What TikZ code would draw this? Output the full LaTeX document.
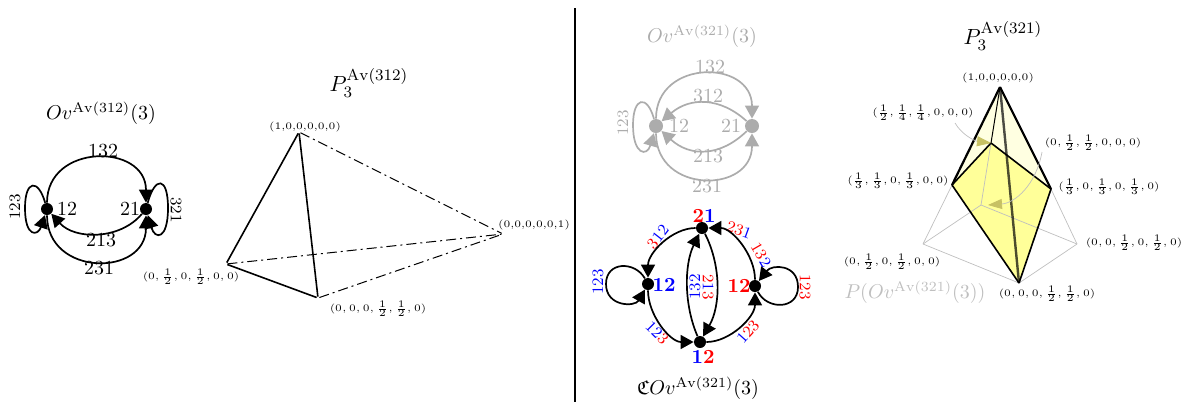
\documentclass[tikz,border=0pt]{standalone}
\usepackage{amsfonts}
\usetikzlibrary{arrows.meta}
\definecolor{softyellow}{RGB}{255,255,153}
\definecolor{paleyellow}{RGB}{255,255,225}
\begin{document}
\begin{tikzpicture}[x=0.5pt,y=-0.5pt,
  vertexdot/.style={circle,fill,inner sep=0pt,minimum size=6pt},
  edgeline/.style={line width=0.85pt,-{Triangle[length=6.5pt,width=7pt]}},
  plainline/.style={line width=0.8pt},
  dashline/.style={line width=0.5pt,dash pattern=on 5pt off 2pt on 1pt off 2pt},
  ghost/.style={gray!65},
  ghostline/.style={gray!50,line width=0.35pt},
  calloutline/.style={gray!50,line width=0.35pt,-{Triangle[length=7pt,width=5pt,color=olive!50]}},
  bigtitle/.style={font=\fontsize{11}{13}\selectfont},
  thinlabel/.style={font=\tiny,inner sep=0pt},
  edgelabel/.style={inner sep=0pt},
  looplabel/.style={font=\footnotesize,inner sep=0pt},
  colorlabel/.style={font=\footnotesize,inner sep=0pt},
  vertexlabel/.style={font=\bfseries,inner sep=0pt}]
\useasboundingbox (0,0) rectangle (1192,403);

\node (avoidtitle) at (101,113) {$Ov^{\mathrm{Av}(312)}(3)$};
\node (left12) [vertexdot] at (47,209) {};
\node (left21) [vertexdot] at (146,209) {};
\node (lab12) [edgelabel] at (67,209) {12};
\node (lab21) [edgelabel] at (130,209) {21};
\node (lab132) [edgelabel] at (103,151) {132};
\node (lab213) [edgelabel] at (101,240) {213};
\node (lab231) [edgelabel] at (99,268) {231};
\node (lab123) [looplabel,rotate=90] at (15,207) {123};
\node (lab321) [looplabel,rotate=-90] at (176,210) {321};

\draw[edgeline] (left12) .. controls (47,143) and (146,143) .. (left21);
\draw[edgeline] (left12) .. controls (47,277) and (146,277) .. (left21);
\draw[edgeline] (left21) .. controls (120,240) and (75,240) .. (left12);
\draw[edgeline] (left12) .. controls (38,178) and (25,180) .. (25,208) .. controls (25,238) and (38,236) .. (left12);
\draw[edgeline] (left21) .. controls (155,176) and (168,176) .. (168,208) .. controls (168,240) and (155,240) .. (left21);

\node (tetratitle) [bigtitle] at (369,83) {$P_3^{\mathrm{Av}(312)}$};
\node (tetratop) [inner sep=0pt] at (299,132) {};
\node (tetraleft) [inner sep=0pt] at (226,264) {};
\node (tetrafront) [inner sep=0pt] at (318,298) {};
\node (tetraright) [inner sep=0pt] at (503,234) {};
\node (tetratoplab) [thinlabel] at (305,127) {(1,0,0,0,0,0)};
\node (tetraleftlab) [thinlabel] at (191,277) {$(0,\frac{1}{2},0,\frac{1}{2},0,0)$};
\node (tetrafrontlab) [thinlabel] at (378,309) {$(0,0,0,\frac{1}{2},\frac{1}{2},0)$};
\node (tetrarightlab) [thinlabel] at (534,225) {(0,0,0,0,0,1)};

\draw[plainline] (tetratop) -- (tetraleft);
\draw[plainline] (tetratop) -- (tetrafront);
\draw[plainline] (tetraleft) -- (tetrafront);
\draw[dashline] (tetratop) -- (tetraright);
\draw[dashline] (tetraleft) -- (tetraright);
\draw[dashline] (tetrafront) -- (tetraright);

\coordinate (dividertop) at (575,8);
\coordinate (dividerbottom) at (575,402);
\draw[plainline] (dividertop) -- (dividerbottom);

\node (ghosttitle) [ghost] at (702,36) {$Ov^{\mathrm{Av}(321)}(3)$};
\node (ghost12) [vertexdot,ghost,minimum size=7pt] at (656,126) {};
\node (ghost21) [vertexdot,ghost,minimum size=7pt] at (752,126) {};
\node (ghostlab12) [edgelabel,ghost] at (679,126) {12};
\node (ghostlab21) [edgelabel,ghost] at (731,126) {21};
\node (ghostlab132) [edgelabel,ghost] at (710,67) {132};
\node (ghostlab312) [edgelabel,ghost] at (708,96) {312};
\node (ghostlab213) [edgelabel,ghost] at (708,156) {213};
\node (ghostlab231) [edgelabel,ghost] at (707,186) {231};
\node (ghostlab123) [looplabel,ghost,rotate=90] at (623,123) {123};

\draw[edgeline,ghost] (ghost12) .. controls (656,59) and (752,59) .. (ghost21);
\draw[edgeline,ghost] (ghost12) .. controls (656,194) and (752,194) .. (ghost21);
\draw[edgeline,ghost] (ghost21) .. controls (720,97) and (690,97) .. (ghost12);
\draw[edgeline,ghost] (ghost21) .. controls (720,157) and (690,157) .. (ghost12);
\draw[edgeline,ghost] (ghost12) .. controls (647,94) and (633,97) .. (633,125) .. controls (633,155) and (647,157) .. (ghost12);

\node (cubetop) [vertexdot] at (702,228) {};
\node (cubeleft) [vertexdot] at (648,284) {};
\node (cuberight) [vertexdot] at (755,286) {};
\node (cubebottom) [vertexdot] at (700,342) {};
\node (cubetoplab) [vertexlabel] at (704,216) {\textcolor{red}{2}\textcolor{blue}{1}};
\node (cubeleftlab) [vertexlabel,blue] at (664,285) {12};
\node (cuberightlab) [vertexlabel,red] at (739,286) {12};
\node (cubebottomlab) [vertexlabel] at (703,357) {\textcolor{blue}{1}\textcolor{red}{2}};
\node (clab312) [colorlabel,rotate=52] at (658,237) {\textcolor{red}{3}\textcolor{blue}{12}};
\node (clab231) [colorlabel,rotate=-20] at (739,230) {\textcolor{red}{23}\textcolor{blue}{1}};
\node (clab132) [colorlabel,rotate=-60] at (761,255) {\textcolor{red}{13}\textcolor{blue}{2}};
\node (clabloopl) [colorlabel,blue,rotate=90] at (598,282) {123};
\node (clabloopr) [colorlabel,red,rotate=-90] at (805,287) {123};
\node (clabinl) [colorlabel,blue,rotate=90] at (695,287) {132};
\node (clabinr) [colorlabel,rotate=-90] at (708,287) {\textcolor{red}{2}\textcolor{blue}{1}\textcolor{red}{3}};
\node (clabbl) [colorlabel,rotate=-45] at (657,333) {\textcolor{blue}{12}\textcolor{red}{3}};
\node (clabbr) [colorlabel,rotate=48] at (748,332) {\textcolor{blue}{1}\textcolor{red}{23}};
\node (cubetitle) at (698,388) {$\mathfrak{C}Ov^{\mathrm{Av}(321)}(3)$};

\draw[edgeline] (cubetop) .. controls (672,228) and (648,253) .. (cubeleft);
\draw[edgeline] (cuberight) .. controls (755,255) and (732,228) .. (cubetop);
\draw[edgeline] (cubeleft) .. controls (648,315) and (670,342) .. (cubebottom);
\draw[edgeline] (cubebottom) .. controls (730,342) and (755,317) .. (cuberight);
\draw[edgeline] (cubebottom) .. controls (684,305) and (684,265) .. (cubetop);
\draw[edgeline] (cubetop) .. controls (721,265) and (721,305) .. (cubebottom);
\draw[edgeline] (cubeleft) .. controls (635,261) and (606,261) .. (606,284) .. controls (606,307) and (635,307) .. (cubeleft);
\draw[edgeline] (cuberight) .. controls (767,310) and (798,310) .. (798,287) .. controls (798,264) and (772,264) .. (cuberight);

\node (polytitle) [bigtitle] at (1003,36) {$P_3^{\mathrm{Av}(321)}$};
\coordinate (polytop) at (1000,87);
\coordinate (polyleft) at (952,185);
\coordinate (polyright) at (1051,189);
\coordinate (polybottom) at (1019,283);
\coordinate (polyback) at (991,143);
\coordinate (polylow) at (981,205);
\coordinate (polyouterl) at (923,244);
\coordinate (polyouterr) at (1077,244);
\coordinate (backstart) at (955,123);
\coordinate (lowstart) at (1042,152);
\coordinate (lowend) at (988,205);

\fill[paleyellow] (polytop) -- (polyleft) -- (polyback) -- (polyright) -- cycle;
\fill[softyellow] (polyleft) -- (polyback) -- (polyright) -- (polybottom) -- cycle;
\draw[ghostline] (polyleft) -- (polyouterl);
\draw[ghostline] (polyouterl) -- (polybottom);
\draw[ghostline] (polybottom) -- (polyouterr);
\draw[ghostline] (polyouterr) -- (polyright);
\draw[ghostline] (polyouterl) -- (polylow);
\draw[ghostline] (polylow) -- (polyouterr);
\draw[ghostline] (polyback) -- (polylow);
\draw[line width=0.5pt] (polytop) -- (polyback);
\draw[plainline] (polyleft) -- (polyback);
\draw[plainline] (polyback) -- (polyright);
\draw[plainline] (polyright) -- (polybottom);
\draw[plainline] (polybottom) -- (polyleft);
\draw[line width=1.1pt] (polytop) -- (polyleft);
\draw[line width=1.1pt] (polytop) -- (polyright);
\draw[line width=1.2pt,opacity=0.7] (polytop) -- (polybottom);

\node (polytoplab) [thinlabel] at (998,78) {(1,0,0,0,0,0)};
\node (polybacklab) [thinlabel] at (923,113) {$(\frac{1}{2},\frac{1}{4},\frac{1}{4},0,0,0)$};
\node (polylowlab) [thinlabel] at (1093,143) {$(0,\frac{1}{2},\frac{1}{2},0,0,0)$};
\node (polyleftlab) [thinlabel] at (898,181) {$(\frac{1}{3},\frac{1}{3},0,\frac{1}{3},0,0)$};
\node (polyrightlab) [thinlabel] at (1109,187) {$(\frac{1}{3},0,\frac{1}{3},0,\frac{1}{3},0)$};
\node (polyouterllab) [thinlabel] at (892,262) {$(0,\frac{1}{2},0,\frac{1}{2},0,0)$};
\node (polyouterrlab) [thinlabel] at (1134,243) {$(0,0,\frac{1}{2},0,\frac{1}{2},0)$};
\node (polybottomlab) [thinlabel] at (1047,294) {$(0,0,0,\frac{1}{2},\frac{1}{2},0)$};
\node (polycaption) [gray!50] at (915,292) {$P(Ov^{\mathrm{Av}(321)}(3))$};

\draw[calloutline] (backstart) .. controls (962,135) and (975,141) .. (polyback);
\draw[calloutline] (lowstart) .. controls (1036,185) and (1015,203) .. (lowend);

\end{tikzpicture}
\end{document}
